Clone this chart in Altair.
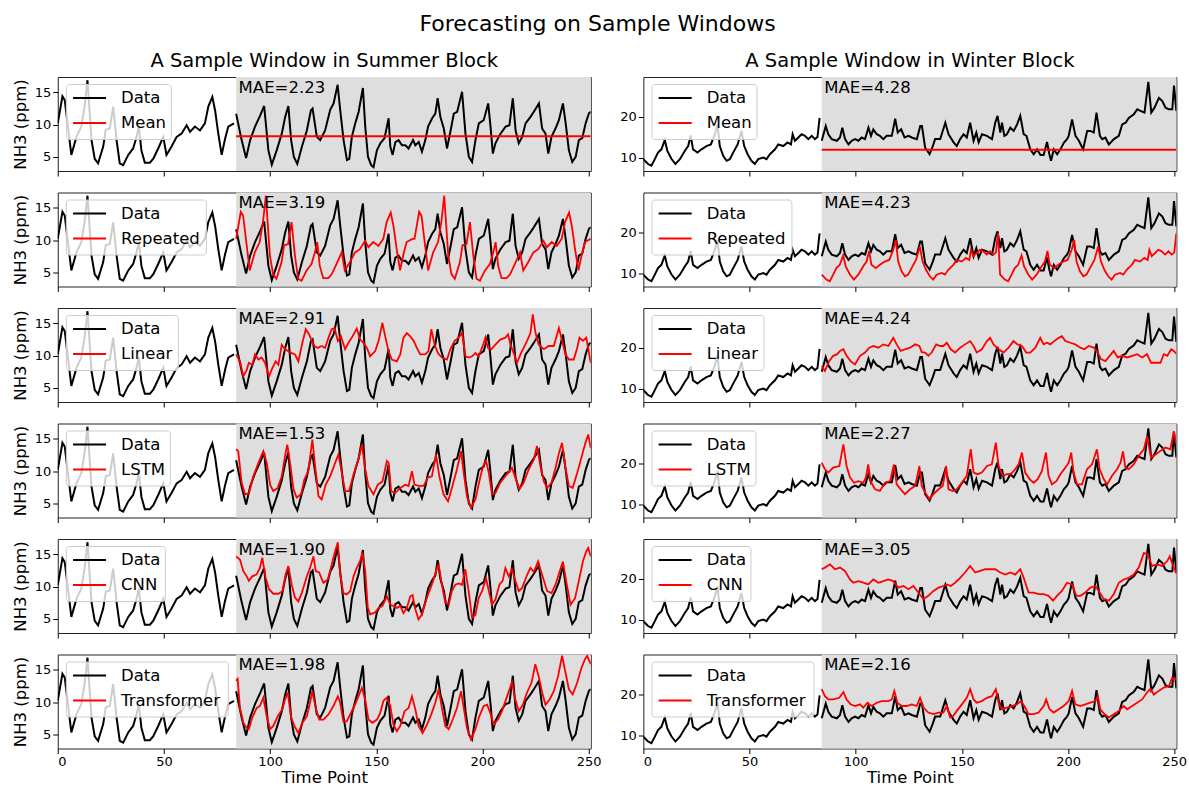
import altair as alt
import pandas as pd

FONT = "DejaVu Sans"

# ---------------- data ----------------
MODELS = ["Mean", "Repeated", "Linear", "LSTM", "CNN", "Transformer"]
SUMMER_MAE = ["2.23", "3.19", "2.91", "1.53", "1.90", "1.98"]
WINTER_MAE = ["4.28", "4.23", "4.24", "2.27", "3.05", "2.16"]
X_TICKS = [0, 50, 100, 150, 200, 250]
SUMMER_Y_TICKS = [5, 10, 15]
WINTER_Y_TICKS = [10, 20]
FORECAST_START = 84
WINDOW_END = 251
MAIN_TITLE = "Forecasting on Sample Windows"
COL_TITLES = ["A Sample Window in Summer Block", "A Sample Window in Winter Block"]

# summer block: input window (0-83) and target (84-251)
S_IN = [(0, 10.2), (2.2, 14.4), (3.3, 13.8), (6.4, 5.3), (8.8, 8.1), (11.1, 9.7), (12.7, 13.0), (14, 16.9),
        (15.9, 7.6), (17.4, 4.7), (19, 4.0), (21.4, 6.6), (22.6, 9.2), (24.5, 9.4), (26.1, 12.8), (27.7, 7.6),
        (29.2, 4.0), (30.8, 3.7), (33.2, 5.3), (35.5, 6.3), (37.1, 8.1), (38.2, 9.7), (39.4, 6.0), (41, 4.1),
        (43.4, 4.1), (45, 4.7), (47.3, 6.3), (49.7, 8.1), (51.2, 5.3), (53.6, 6.6), (56, 8.1), (58.3, 8.6),
        (60.7, 9.9), (62.3, 8.9), (64.6, 9.7), (67, 9.1), (69.3, 10.2), (70.9, 12.8), (72.8, 14.3), (74.1, 12.2),
        (75.6, 8.6), (77.2, 5.3), (78.8, 7.8), (80.3, 9.7), (83, 10.2)]
S_OUT = [(84, 11.7), (86.6, 7.6), (88.7, 4.8), (90.6, 7.6), (92.9, 9.7), (95.3, 11.4), (97.2, 12.9), (99.2, 6.0),
         (100.8, 3.8), (103.1, 6.0), (105.5, 8.6), (107.1, 11.2), (108.6, 12.9), (109.9, 7.6), (111.2, 5.0),
         (112.8, 3.9), (115, 6.6), (117.3, 9.1), (119.2, 12.2), (120, 12.5), (122, 8.1), (123.6, 7.6),
         (125.9, 9.1), (128.3, 12.3), (129.9, 13.3), (131.8, 16.2), (133, 12.3), (134.6, 7.6), (136.2, 4.5),
         (137.3, 4.7), (138.5, 8.1), (140.1, 10.2), (141.7, 12.0), (143.7, 15.7), (144.8, 9.7), (146.1, 5.0),
         (147.6, 3.7), (148.7, 3.4), (150.3, 6.0), (151.9, 7.1), (153.9, 7.9), (155.8, 11.0), (156.6, 6.6),
         (157.7, 5.3), (159, 7.3), (160.5, 7.6), (162.1, 6.8), (163.7, 6.8), (165.2, 6.3), (167.3, 7.6),
         (168.4, 6.8), (170, 7.3), (171.5, 5.8), (173.1, 7.6), (174.4, 9.7), (176.3, 11.0), (177.8, 11.7),
         (178.9, 14.1), (180.2, 11.2), (181.8, 9.4), (183.3, 6.3), (184.9, 8.9), (186.5, 11.7), (188.1, 12.0),
         (190.4, 15.1), (192, 8.6), (193.6, 5.0), (195.1, 4.2), (196.7, 7.6), (198.3, 10.2), (200.6, 10.7),
         (202.7, 13.3), (203.8, 9.7), (204.9, 5.5), (206.1, 7.1), (208.5, 8.6), (210.9, 9.7), (212.7, 9.9),
         (214.3, 14.1), (215.6, 9.1), (217.1, 7.1), (218.7, 8.1), (220.3, 10.2), (222.6, 11.2), (224.2, 12.0),
         (226.6, 13.3), (228.1, 9.4), (229.7, 8.6), (231, 5.5), (232.5, 8.1), (234.4, 9.4), (236, 10.7),
         (237.9, 13.3), (239.2, 10.2), (240.7, 6.0), (242.3, 4.2), (243.9, 5.0), (245.4, 7.6), (247, 7.9),
         (248.6, 10.2), (250.2, 11.8), (251, 12.0)]

S_MEAN = [(84, 8.2), (251, 8.2)]
S_REP = [(84, 10.2), (86.2, 14.4), (87.3, 13.8), (90.4, 5.3), (92.8, 8.1), (95.1, 9.7), (96.7, 13.0), (98, 16.9),
         (99.9, 7.6), (101.4, 4.7), (103, 4.0), (105.4, 6.6), (106.6, 9.2), (108.5, 9.4), (110.1, 12.8),
         (111.7, 7.6), (113.2, 4.0), (114.8, 3.7), (117.2, 5.3), (119.5, 6.3), (121.1, 8.1), (122.2, 9.7),
         (123.4, 6.0), (125, 4.1), (127.4, 4.1), (129, 4.7), (131.3, 6.3), (133.7, 8.1), (135.2, 5.3),
         (137.6, 6.6), (140, 8.1), (142.3, 8.6), (144.7, 9.9), (146.3, 8.9), (148.6, 9.7), (151, 9.1),
         (153.3, 10.2), (154.9, 12.8), (156.8, 14.3), (158.1, 12.2), (159.6, 8.6), (161.2, 5.3), (162.8, 7.8),
         (164.3, 9.7), (167, 10.2),
         (168, 10.2), (170.2, 14.4), (171.3, 13.8), (174.4, 5.3), (176.8, 8.1), (179.1, 9.7), (180.7, 13.0),
         (182, 16.9), (183.9, 7.6), (185.4, 4.7), (187, 4.0), (189.4, 6.6), (190.6, 9.2), (192.5, 9.4),
         (194.1, 12.8), (195.7, 7.6), (197.2, 4.0), (198.8, 3.7), (201.2, 5.3), (203.5, 6.3), (205.1, 8.1),
         (206.2, 9.7), (207.4, 6.0), (209, 4.1), (211.4, 4.1), (213, 4.7), (215.3, 6.3), (217.7, 8.1),
         (219.2, 5.3), (221.6, 6.6), (224, 8.1), (226.3, 8.6), (228.7, 9.9), (230.3, 8.9), (232.6, 9.7),
         (235, 9.1), (237.3, 10.2), (238.9, 12.8), (240.8, 14.3), (242.1, 12.2), (243.6, 8.6), (245.2, 5.3),
         (246.8, 7.8), (248.3, 9.7), (251, 10.2)]
S_LIN = [(84, 10.2), (85.8, 9.1), (87.4, 6.8), (89, 7.8), (90, 8.9), (91.6, 8.6), (92.9, 10.2), (94.5, 9.4),
         (96, 9.7), (97.6, 8.9), (99.5, 6.8), (101.1, 8.1), (102.6, 9.1), (103.9, 8.6), (105.5, 11.7), (107, 11.0),
         (108.6, 10.7), (110.2, 10.4), (111.7, 10.2), (113.3, 9.1), (115.2, 12.0), (116.8, 14.1), (118.4, 13.3),
         (119.6, 12.3), (120.9, 11.5), (122.4, 11.2), (124.3, 11.5), (125.9, 11.2), (127.5, 12.8), (129, 14.1),
         (130.3, 14.3), (131.9, 12.3), (133.4, 13.0), (135.3, 11.0), (136.9, 12.0), (138.5, 12.8), (140.8, 14.2),
         (142.4, 12.5), (144, 12.0), (145.6, 11.2), (147.1, 9.9), (149.5, 10.7), (151.1, 12.3), (152.9, 15.1),
         (154.2, 13.0), (155.8, 10.7), (157.3, 9.4), (159.7, 9.1), (161.3, 10.2), (162.8, 12.8), (164.4, 13.5),
         (166, 13.0), (167.6, 12.3), (169.1, 11.2), (170.7, 10.2), (173.1, 10.2), (174.6, 10.7), (175.9, 14.1),
         (177.5, 11.7), (179, 10.4), (180.9, 9.7), (183.3, 9.4), (184.9, 11.0), (186.9, 12.3), (188.8, 12.8),
         (190.4, 13.5), (192, 9.9), (193.6, 9.7), (195.1, 9.9), (196.7, 10.4), (198.2, 9.9), (199.8, 11.2),
         (201.4, 12.8), (202.6, 11.2), (204.2, 11.0), (206.1, 11.7), (208.4, 12.5), (210.8, 12.8), (212.1, 13.3),
         (213.2, 11.7), (214.7, 10.4), (216.3, 8.9), (217.9, 10.2), (219.4, 11.2), (221, 12.3), (222.6, 13.5),
         (223.7, 16.4), (225, 13.5), (226.5, 11.7), (228.9, 11.0), (231.2, 11.5), (233.6, 11.5), (236, 14.3),
         (237.5, 12.3), (239.1, 10.2), (240.7, 9.4), (243, 9.4), (244.6, 11.2), (245.7, 12.8), (247.3, 12.3),
         (248.9, 12.8), (251, 8.9)]
S_LSTM = [(84, 13.4), (85, 13.1), (86.6, 8.2), (88.2, 6.4), (90.1, 6.6), (92.1, 9.2), (94.5, 11.3), (96.8, 13.1),
          (98.4, 11.3), (100, 7.9), (101.5, 6.9), (103.6, 7.4), (105.5, 9.2), (107, 12.3), (108.1, 14.1),
          (109.4, 11.3), (111, 7.2), (112.5, 5.9), (114.6, 6.4), (116.1, 8.7), (118, 10.0), (119.9, 14.9),
          (121.2, 10.8), (122.8, 6.1), (124.3, 5.6), (126.2, 7.9), (128.3, 9.2), (130.3, 11.0), (132.2, 12.6),
          (133.8, 9.7), (135.3, 6.9), (137.2, 6.9), (139.3, 9.5), (141.6, 11.8), (143.2, 14.1), (144.8, 10.3),
          (146.3, 7.7), (148.7, 6.4), (150.7, 7.9), (152.9, 8.4), (155, 11.6), (155.8, 11.3), (157, 6.9),
          (158.9, 6.6), (161.3, 7.4), (163.6, 7.9), (165.2, 7.7), (166.8, 10.0), (168, 7.9), (169.9, 7.7),
          (172.3, 7.7), (174.3, 9.0), (176.2, 9.2), (178.1, 12.6), (179.7, 9.2), (181.7, 6.4), (183.8, 5.3),
          (185.6, 7.4), (188, 10.3), (189.9, 13.1), (191.2, 9.7), (192.7, 6.1), (194.6, 4.3), (196.7, 5.6),
          (198.5, 8.4), (200.3, 10.8), (201.7, 11.6), (203, 9.7), (204.5, 6.4), (206.1, 6.6), (208.4, 8.2),
          (210.8, 9.2), (213.9, 10.5), (215.5, 9.0), (217.4, 7.2), (219.4, 8.2), (221.8, 10.3), (224.2, 11.8),
          (225.7, 13.9), (227.3, 10.8), (228.9, 8.4), (230.5, 7.4), (232.5, 8.2), (234.4, 10.5), (236, 12.8),
          (237.5, 14.4), (239.1, 10.5), (240.7, 7.7), (242.5, 7.4), (244.6, 9.7), (246.6, 12.1), (248.5, 14.4),
          (249.8, 15.7), (251, 13.6)]
S_CNN = [(84, 14.7), (85.8, 14.2), (87.4, 12.4), (89, 11.6), (90, 10.9), (91.6, 11.6), (93.7, 11.9), (95.2, 12.9),
         (96.3, 14.5), (97.9, 11.4), (99.5, 9.6), (101.5, 8.9), (103.9, 8.9), (105.8, 9.3), (107.3, 11.9),
         (108.6, 13.2), (110.2, 10.3), (111.7, 8.3), (113.3, 7.7), (114.9, 9.0), (117.3, 11.6), (118.8, 12.9),
         (120.4, 14.7), (121.5, 12.4), (123.1, 12.2), (125.1, 10.6), (127.2, 11.1), (129, 13.4), (130.6, 15.5),
         (131.9, 16.9), (133, 11.9), (134.5, 9.0), (136.1, 8.8), (137.7, 9.3), (139.3, 11.6), (140.8, 12.9),
         (142.4, 14.0), (143.5, 15.3), (144.8, 12.4), (146, 6.7), (147.1, 5.7), (149.5, 6.0), (151.1, 6.7),
         (152.9, 7.0), (155, 8.5), (156.6, 7.2), (158.1, 7.0), (159.7, 6.7), (161.3, 7.0), (162.8, 5.9),
         (164.4, 6.7), (166, 8.5), (167.1, 8.7), (168.4, 6.5), (169.9, 4.9), (171.5, 5.7), (173.1, 7.5),
         (174.6, 9.0), (176.5, 10.6), (178.6, 12.9), (179.4, 13.4), (180.9, 10.3), (182.5, 7.5), (184.1, 7.2),
         (185.6, 9.3), (187.2, 10.3), (188.8, 10.5), (190.4, 10.3), (191.9, 12.7), (193.5, 9.3), (195.1, 5.2),
         (196.7, 5.6), (198.2, 8.2), (199.8, 9.3), (201.7, 11.3), (203, 9.3), (204.5, 7.2), (206.1, 8.0),
         (208, 10.3), (209.5, 10.9), (210.8, 12.9), (212.4, 11.6), (213.9, 12.7), (215.5, 10.9), (217.1, 9.3),
         (218.7, 9.8), (221, 11.8), (222.6, 12.9), (224.2, 12.3), (226.2, 13.9), (228.1, 11.8), (230.5, 9.3),
         (232.5, 9.0), (234.4, 10.3), (236.3, 12.3), (237.9, 13.9), (239.4, 10.9), (241.5, 7.2), (243.6, 8.2),
         (245.4, 10.9), (247.3, 13.9), (248.9, 15.5), (249.8, 16.0), (251, 14.7)]
S_TR = [(84, 13.3), (84.7, 13.6), (85.8, 9.1), (87.4, 6.8), (89, 6.0), (90, 5.8), (91.6, 7.6), (93.7, 9.1),
        (95.2, 9.4), (96.8, 10.7), (98.4, 7.8), (100, 5.8), (101.5, 6.3), (103.6, 7.8), (105.8, 8.9), (107, 10.4),
        (108.3, 11.5), (109.8, 7.8), (111.4, 6.3), (113.3, 5.2), (115.2, 6.8), (117.3, 7.8), (118.8, 9.9),
        (119.9, 11.7), (121.5, 9.1), (123.1, 7.3), (125.1, 7.3), (127.5, 8.1), (129.8, 9.4), (131.9, 10.9),
        (133, 9.9), (134.5, 7.0), (136.1, 7.0), (137.7, 8.1), (139.7, 9.4), (141.6, 10.9), (143.2, 12.2),
        (144.8, 10.4), (146.3, 7.3), (148.2, 6.8), (150.3, 7.3), (151.8, 8.3), (153.4, 10.2), (155, 10.7),
        (156.6, 9.4), (158.1, 6.5), (159.7, 5.5), (161.3, 6.3), (163.3, 8.6), (165.2, 9.1), (166.8, 10.9),
        (168.4, 8.9), (169.9, 6.3), (171.8, 5.2), (173.9, 6.5), (175.9, 8.1), (177.8, 9.9), (179.4, 12.0),
        (180.9, 9.1), (182.5, 6.3), (184.1, 5.8), (186, 7.3), (188, 9.1), (189.9, 11.7), (191.2, 9.1),
        (192.7, 6.0), (194.6, 4.2), (196.7, 5.8), (198.5, 7.8), (200.6, 9.4), (202.2, 9.6), (203.7, 8.3),
        (205.3, 6.5), (207.3, 7.3), (209.2, 8.6), (211.6, 10.9), (213.9, 13.1), (215.5, 10.4), (217.1, 8.6),
        (219, 9.6), (221, 11.5), (223.1, 13.0), (224.9, 15.9), (226.5, 14.0), (228.1, 11.5), (229.7, 9.6),
        (231.6, 10.4), (233.6, 11.7), (235.6, 14.0), (237.5, 17.2), (239.1, 14.6), (240.7, 12.0), (242.5, 11.2),
        (244.6, 13.0), (246.6, 15.3), (248.2, 16.6), (249.3, 17.2), (251, 15.9)]

# winter block
W_IN = [(0, 9.6), (2.2, 8.4), (3.8, 8.0), (5.4, 9.6), (6.9, 11.2), (8.5, 12.0), (10.1, 14.3), (11.3, 11.6),
        (13.2, 9.7), (15.1, 8.4), (17.2, 9.6), (19.5, 11.6), (21.1, 12.8), (22.3, 15.4), (23.4, 12.0), (25.5, 11.2),
        (27.4, 12.0), (29.7, 12.8), (31.8, 13.2), (33.7, 15.7), (34.9, 18.1), (36, 12.8), (37.6, 10.4), (39.2, 9.2),
        (40.7, 9.6), (42.3, 11.2), (44.4, 13.2), (46.2, 16.5), (47.5, 12.8), (49.1, 10.8), (50.9, 9.2), (52.5, 8.4),
        (54.1, 9.6), (56.5, 10.0), (58, 9.6), (59.6, 10.8), (62, 12.0), (63.5, 13.2), (65.9, 12.8), (67.9, 13.7),
        (69.5, 13.2), (70.3, 15.7), (71.4, 14.1), (73, 14.9), (74.5, 15.7), (76.1, 15.3), (77.7, 14.5), (79.3, 15.3),
        (80.8, 14.5), (82, 15.0), (83, 19.7)]
W_OUT = [(84, 14.1), (85.9, 17.7), (87.1, 15.7), (88.7, 14.5), (91.1, 14.1), (92.6, 14.9), (93.7, 17.3), (95, 14.5),
         (96.6, 13.2), (98.1, 14.1), (99.7, 14.5), (101.3, 14.1), (102.8, 14.9), (104.4, 14.5), (106, 17.3),
         (107.2, 15.3), (108.3, 16.9), (109.9, 15.7), (111.4, 15.3), (113, 14.5), (114.6, 15.3), (117, 15.3),
         (118.6, 19.5), (119.8, 16.1), (121.4, 16.9), (123, 14.9), (124.9, 15.3), (126.4, 14.9), (128.8, 14.5),
         (130.4, 17.7), (131.2, 17.7), (132.7, 12.4), (134.8, 10.8), (136.3, 12.8), (137.4, 14.5), (139.8, 14.5),
         (142.2, 18.5), (143.7, 15.7), (146.1, 13.7), (147.6, 12.8), (149.2, 14.5), (150.8, 15.7), (152.3, 14.9),
         (153.9, 18.5), (155.5, 14.1), (156.8, 16.1), (157.9, 13.7), (159.5, 15.7), (161.8, 15.3), (164.2, 14.5),
         (165.7, 18.5), (166.8, 20.2), (168.1, 16.1), (168.9, 18.5), (170, 15.3), (171.2, 15.7), (172.8, 17.3),
         (174.4, 16.5), (176, 18.1), (177.5, 20.2), (179.1, 15.7), (180.4, 15.3), (182.2, 12.0), (183.8, 10.8),
         (185.4, 12.0), (187, 10.6), (188.5, 10.6), (190.1, 13.8), (191.2, 10.8), (192, 9.2), (193.3, 12.0),
         (194.9, 10.8), (196.4, 12.0), (198, 13.6), (199.5, 14.5), (200.3, 15.3), (201.9, 19.3), (203.5, 15.3),
         (205.1, 14.1), (207.1, 12.0), (209, 16.5), (210.6, 16.5), (212.1, 16.1), (213.4, 21.0), (215, 15.3),
         (216.1, 14.5), (217.6, 14.9), (219.2, 13.2), (221.6, 14.5), (223.9, 15.3), (225.5, 18.1), (227.1, 18.5),
         (228.6, 19.7), (231, 20.6), (232.6, 21.8), (234.1, 21.4), (236, 21.0), (237.8, 28.5), (239.2, 21.0),
         (240.7, 22.2), (242.8, 24.6), (244.4, 23.8), (245.9, 22.2), (247.5, 21.8), (249.1, 21.8), (249.9, 27.6),
         (251, 21.4)]

W_MEAN = [(84, 11.9), (251, 11.9)]
W_REP = [(84, 9.6), (86.2, 8.4), (87.8, 8.0), (89.4, 9.6), (90.9, 11.2), (92.5, 12.0), (94.1, 14.3), (95.3, 11.6),
         (97.2, 9.7), (99.1, 8.4), (101.2, 9.6), (103.5, 11.6), (105.1, 12.8), (106.3, 15.4), (107.4, 12.0),
         (109.5, 11.2), (111.4, 12.0), (113.7, 12.8), (115.8, 13.2), (117.7, 15.7), (118.9, 18.1), (120, 12.8),
         (121.6, 10.4), (123.2, 9.2), (124.7, 9.6), (126.3, 11.2), (128.4, 13.2), (130.2, 16.5), (131.5, 12.8),
         (133.1, 10.8), (134.9, 9.2), (136.5, 8.4), (138.1, 9.6), (140.5, 10.0), (142, 9.6), (143.6, 10.8),
         (146, 12.0), (147.5, 13.2), (149.9, 12.8), (151.9, 13.7), (153.5, 13.2), (154.3, 15.7), (155.4, 14.1),
         (157, 14.9), (158.5, 15.7), (160.1, 15.3), (161.7, 14.5), (163.3, 15.3), (164.8, 14.5), (166, 15.0),
         (167, 19.7),
         (168, 9.6), (170.2, 8.4), (171.8, 8.0), (173.4, 9.6), (174.9, 11.2), (176.5, 12.0), (178.1, 14.3),
         (179.3, 11.6), (181.2, 9.7), (183.1, 8.4), (185.2, 9.6), (187.5, 11.6), (189.1, 12.8), (190.3, 15.4),
         (191.4, 12.0), (193.5, 11.2), (195.4, 12.0), (197.7, 12.8), (199.8, 13.2), (201.7, 15.7), (202.9, 18.1),
         (204, 12.8), (205.6, 10.4), (207.2, 9.2), (208.7, 9.6), (210.3, 11.2), (212.4, 13.2), (214.2, 16.5),
         (215.5, 12.8), (217.1, 10.8), (218.9, 9.2), (220.5, 8.4), (222.1, 9.6), (224.5, 10.0), (226, 9.6),
         (227.6, 10.8), (230, 12.0), (231.5, 13.2), (233.9, 12.8), (235.9, 13.7), (237.5, 13.2), (238.3, 15.7),
         (239.4, 14.1), (241, 14.9), (242.5, 15.7), (244.1, 15.3), (245.7, 14.5), (247.3, 15.3), (248.8, 14.5),
         (250, 15.0), (251, 19.7)]
W_LIN = [(84, 15.5), (85.5, 14.3), (87.5, 16.7), (89.4, 18.0), (91.3, 18.4), (92.6, 19.2), (94.2, 19.6),
         (95.7, 18.0), (97.6, 16.7), (99.7, 15.9), (102, 18.0), (104.4, 18.8), (106.4, 20.0), (108.3, 20.4),
         (110.7, 20.0), (113, 20.8), (115.4, 20.4), (117.7, 22.4), (119.3, 20.8), (121.2, 19.2), (123.2, 19.6),
         (125.6, 20.0), (128, 20.8), (130, 20.4), (131.1, 18.9), (132.7, 18.8), (134.2, 18.0), (135.8, 18.8),
         (137.9, 20.8), (139.8, 20.4), (141.3, 20.4), (142.9, 21.2), (144.8, 19.6), (146.8, 18.8), (149.2, 20.0),
         (151.5, 20.8), (153.9, 21.6), (155.5, 20.4), (157, 18.8), (159.4, 19.6), (161.8, 21.6), (163.3, 22.4),
         (164.9, 20.8), (167.3, 19.6), (169.6, 18.8), (172, 20.0), (174.3, 21.6), (176.2, 20.8), (178.3, 20.4),
         (180.3, 18.8), (182.2, 18.8), (184.6, 20.0), (186.9, 22.4), (188.5, 20.8), (190.1, 21.2), (191.6, 20.8),
         (193.5, 21.6), (195.6, 22.4), (197.1, 22.8), (198.7, 21.6), (201.1, 21.2), (203.4, 20.8), (205.8, 20.0),
         (207.7, 19.6), (209.7, 20.4), (212.1, 20.0), (213.6, 19.2), (215.5, 17.2), (217.6, 16.7), (219.6, 18.0),
         (221.5, 19.2), (223.4, 17.6), (225.4, 18.0), (227.8, 17.6), (230.2, 18.0), (232.5, 18.4), (234.9, 17.6),
         (237.2, 18.4), (239.1, 16.3), (241.2, 16.3), (243.5, 16.3), (245.1, 18.4), (246.7, 18.0), (248.6, 19.6),
         (249.8, 19.2), (251, 18.5)]
W_LSTM = [(84, 20.1), (85.5, 18.5), (87.1, 17.7), (89.4, 18.9), (92.3, 19.3), (94.2, 24.6), (95.7, 19.3),
          (97.3, 16.5), (99.2, 15.2), (101.2, 15.6), (103.6, 15.2), (104.8, 16.5), (105.9, 19.7), (107, 15.6),
          (109.1, 13.6), (111.4, 13.2), (113.8, 15.2), (116.2, 15.6), (118, 19.7), (119.3, 14.8), (121.2, 13.6),
          (123.2, 12.4), (125.6, 13.6), (128, 14.4), (130, 19.3), (131.1, 14.4), (132.7, 12.8), (134.7, 11.2),
          (136.6, 12.4), (139, 13.6), (141, 14.4), (142.6, 19.3), (143.7, 13.6), (145.7, 13.2), (147.6, 13.6),
          (150, 15.2), (152.3, 16.9), (154.2, 23.4), (155.5, 17.7), (157.4, 17.3), (159.4, 17.7), (161.8, 19.3),
          (164.1, 19.7), (166, 25.0), (167.3, 19.3), (169.3, 16.9), (171.2, 17.3), (173.1, 17.3), (175.1, 18.5),
          (176.7, 19.7), (178.3, 22.6), (179.8, 17.7), (181.9, 16.1), (183.8, 15.2), (185.7, 16.1), (187.7, 18.1),
          (189.6, 22.6), (190.8, 16.9), (192.4, 14.8), (194.5, 15.6), (196.4, 17.3), (198.7, 18.9), (200.3, 20.1),
          (201.5, 22.6), (202.6, 17.7), (204.2, 14.8), (206.6, 14.8), (208.9, 18.5), (211.3, 19.7), (213.6, 23.4),
          (214.9, 18.5), (216.8, 16.1), (218.4, 14.8), (220.7, 16.9), (223.1, 18.5), (224.7, 20.1), (225.9, 22.9),
          (227, 18.9), (228.6, 18.5), (230.9, 19.7), (233.3, 21.8), (235.7, 23.4), (237.2, 26.6), (239.1, 21.3),
          (241.2, 22.1), (243.5, 23.0), (245.9, 23.8), (248.2, 23.4), (249.8, 27.8), (251, 24.6)]
W_CNN = [(84, 22.3), (85.5, 22.7), (87.9, 23.5), (90.2, 22.3), (92.6, 22.7), (94.9, 21.9), (97.3, 19.8),
         (98.9, 19.0), (101.2, 19.4), (103.6, 19.0), (105.9, 18.6), (108.3, 19.8), (110.7, 19.0), (113, 19.4),
         (115.4, 19.8), (117.7, 19.4), (120.1, 17.8), (122.5, 18.2), (124.8, 17.4), (127.2, 18.2), (129.5, 16.6),
         (131.9, 15.0), (134.2, 15.8), (136.6, 17.0), (139, 17.8), (141.3, 18.2), (142.9, 18.6), (144.8, 18.2),
         (146.8, 19.0), (149.2, 20.2), (151.5, 21.5), (153.9, 23.1), (156.3, 21.5), (158.6, 21.9), (161, 22.3),
         (163.3, 22.3), (165.7, 22.3), (168.1, 21.5), (170.4, 21.0), (172.8, 21.5), (175.1, 21.0), (177.5, 22.3),
         (179.4, 19.8), (181.4, 16.6), (183.8, 16.6), (186.1, 16.2), (188.5, 16.2), (190.8, 15.8), (192.9, 14.6),
         (194.8, 15.8), (197.1, 17.0), (199.5, 19.0), (201.9, 18.6), (203.9, 15.8), (205.8, 15.8), (208.1, 16.6),
         (210.5, 17.8), (212.9, 18.2), (214.9, 16.6), (216.8, 15.0), (219.2, 14.6), (221.5, 16.2), (223.9, 19.0),
         (226.2, 19.8), (228.6, 20.2), (230.9, 21.0), (233.3, 22.7), (235.7, 26.3), (237.5, 25.9), (239.6, 23.1),
         (242, 23.5), (244.3, 23.1), (246.7, 24.3), (247.9, 25.5), (249.5, 23.1), (251, 21.3)]
W_TR = [(84, 21.2), (85.5, 19.5), (87.1, 18.7), (89.4, 18.7), (92.3, 19.1), (94.2, 20.5), (95.7, 18.7),
        (97.6, 17.5), (99.7, 17.1), (102, 17.5), (103.6, 16.7), (105.5, 17.9), (107.5, 17.1), (109.9, 17.9),
        (112.2, 18.3), (115.4, 18.3), (117, 18.7), (118.2, 20.8), (119.6, 17.9), (121.7, 17.1), (124, 17.1),
        (126.4, 17.5), (128.7, 17.1), (130.3, 19.1), (131.9, 16.7), (134.2, 15.5), (136.6, 15.1), (139, 15.5),
        (141.3, 15.5), (142.9, 17.1), (144.5, 14.3), (146, 14.7), (147.6, 15.9), (150, 17.5), (152.3, 19.1),
        (153.9, 21.2), (155.5, 18.7), (157, 17.9), (159.4, 18.3), (161.8, 19.1), (164.1, 19.5), (166, 21.2),
        (167.3, 17.9), (168.8, 16.3), (171.2, 16.7), (173.6, 17.1), (175.9, 17.5), (177.8, 18.3), (179.4, 17.1),
        (181.4, 15.1), (183.8, 15.1), (186.1, 15.5), (188.5, 17.1), (189.7, 18.7), (191.3, 16.3), (193.2, 15.5),
        (195.6, 16.3), (197.9, 17.1), (200.3, 18.3), (201.9, 20.8), (203.4, 17.5), (205.8, 17.1), (208.1, 17.5),
        (210.5, 17.9), (212.9, 18.3), (214, 19.5), (215.2, 16.3), (217.1, 15.1), (219.2, 14.3), (221.5, 15.1),
        (223.9, 15.9), (226.2, 17.1), (227.8, 16.3), (230.2, 17.1), (232.5, 17.9), (234.9, 18.7), (237.2, 20.4),
        (238.8, 21.3), (240.4, 19.9), (242.7, 20.8), (245.1, 21.6), (247.5, 22.0), (249, 24.0), (251, 23.6)]

SUMMER_FC = [S_MEAN, S_REP, S_LIN, S_LSTM, S_CNN, S_TR]
WINTER_FC = [W_MEAN, W_REP, W_LIN, W_LSTM, W_CNN, W_TR]

# ---------------- layout / style ----------------
PW, PH = 533, 94
S_YDOM = [2.8, 17.4]
W_YDOM = [6.7, 29.7]
SHADE = "#dedede"
LEG_W = {"Mean": 105, "Repeated": 140, "Linear": 112, "LSTM": 104, "CNN": 99, "Transformer": 162}
FS = 16.5
TICK_FS = 13


def frame(pairs, seg):
    return pd.DataFrame({"t": [p[0] for p in pairs], "v": [p[1] for p in pairs], "seg": seg})


def panel(season, i):
    summer = season == "summer"
    model = MODELS[i]
    last = i == 5
    xs = alt.Scale(domain=[0, WINDOW_END], nice=False, zero=False)
    ys = alt.Scale(domain=S_YDOM if summer else W_YDOM, nice=False, zero=False)
    xaxis = alt.Axis(values=X_TICKS, labels=last, labelFontSize=TICK_FS, tickSize=5, labelPadding=2,
                     titleFontSize=FS, titlePadding=1, format="d")
    if summer:
        yaxis = alt.Axis(values=SUMMER_Y_TICKS, labelFontSize=TICK_FS, tickSize=5, minExtent=26, maxExtent=26,
                         titleFontSize=FS, titlePadding=3.2)
        ytitle = "NH3 (ppm)"
    else:
        yaxis = alt.Axis(values=WINTER_Y_TICKS, labelFontSize=TICK_FS, tickSize=5, minExtent=26, maxExtent=26)
        ytitle = None
    xtitle = "Time Point" if last else None

    X = alt.X("t:Q", scale=xs, axis=xaxis, title=xtitle)
    Y = alt.Y("v:Q", scale=ys, axis=yaxis, title=ytitle)

    data_in = S_IN if summer else W_IN
    data_out = S_OUT if summer else W_OUT
    fc = (SUMMER_FC if summer else WINTER_FC)[i]
    mae = (SUMMER_MAE if summer else WINTER_MAE)[i]

    shade = alt.Chart(pd.DataFrame({"t": [FORECAST_START], "t2": [WINDOW_END]})).mark_rect(
        color=SHADE).encode(x=X, x2="t2:Q", y=alt.value(0), y2=alt.value(PH))
    dline = alt.Chart(pd.concat([frame(data_in, "in"), frame(data_out, "out")])).mark_line(
        color="black", strokeWidth=2, clip=True).encode(x=X, y=Y, detail="seg:N")
    fline = alt.Chart(frame(fc, "fc")).mark_line(color="#ff0000", strokeWidth=1.8, clip=True).encode(x=X, y=Y)
    mae_t = alt.Chart(pd.DataFrame({"t": [FORECAST_START], "label": [f"MAE={mae}"]})).mark_text(
        align="left", baseline="alphabetic", dx=2.5, fontSize=FS, font=FONT, color="black").encode(
        x=X, y=alt.value(15.5), text="label:N")

    one = pd.DataFrame({"k": [0]})
    lw = LEG_W[model]
    box = alt.Chart(one).mark_rect(fill="white", fillOpacity=0.8, stroke="#cccccc", strokeWidth=1,
                                   cornerRadius=3).encode(
        x=alt.value(8.6), x2=alt.value(8.6 + lw), y=alt.value(7.5), y2=alt.value(62.5))
    r1 = alt.Chart(one).mark_rule(color="black", strokeWidth=2).encode(
        x=alt.value(15.3), x2=alt.value(48.3), y=alt.value(21))
    r2 = alt.Chart(one).mark_rule(color="#ff0000", strokeWidth=2).encode(
        x=alt.value(15.3), x2=alt.value(48.3), y=alt.value(46))
    t1 = alt.Chart(one).mark_text(align="left", baseline="middle", fontSize=FS, font=FONT, color="black").encode(
        x=alt.value(63.3), y=alt.value(21.3), text=alt.value("Data"))
    t2 = alt.Chart(one).mark_text(align="left", baseline="middle", fontSize=FS, font=FONT, color="black").encode(
        x=alt.value(63.3), y=alt.value(46.3), text=alt.value(model))

    layers = [shade, dline, fline, mae_t, box, r1, r2, t1, t2]
    if i == 0:
        layers.append(alt.Chart(one).mark_text(
            align="center", baseline="top", fontSize=19.5, font=FONT, color="black").encode(
            x=alt.value(PW / 2), y=alt.value(-25.5), text=alt.value(COL_TITLES[0 if summer else 1])))
        if summer:
            layers.append(alt.Chart(one).mark_text(
                align="center", baseline="top", fontSize=22, font=FONT, color="black").encode(
                x=alt.value(539.8), y=alt.value(-62.9), text=alt.value(MAIN_TITLE)))
    return alt.layer(*layers).properties(width=PW, height=PH)


panels = []
for i in range(6):
    panels.append(panel("summer", i))
    panels.append(panel("winter", i))

chart = alt.concat(
    *panels, columns=2, spacing={"row": 21.5, "column": 52.6}, bounds="flush"
).properties(
    padding={"left": 11.75, "top": 12.0, "right": 0, "bottom": 0},
    background="white",
).configure_view(
    stroke="#222222", strokeWidth=1
).configure_axis(
    grid=False, domain=False, labelFont=FONT, titleFont=FONT, tickColor="black", labelColor="black",
    titleColor="black", titleFontWeight="normal", tickWidth=1
)

chart.save("out.html", embed_options={"renderer": "svg", "actions": False})
